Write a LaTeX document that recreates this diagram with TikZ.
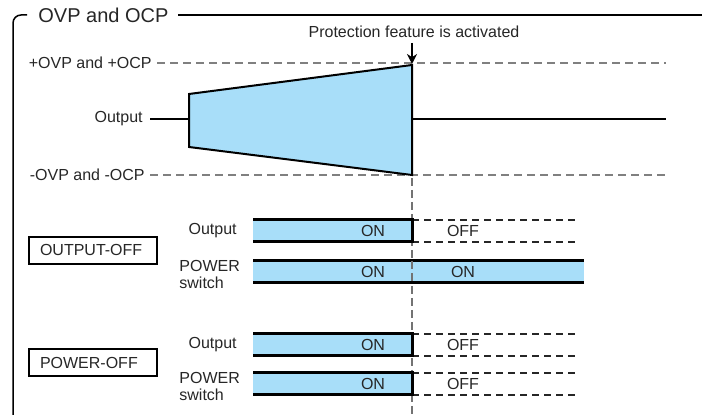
\documentclass[tikz,border=0pt]{standalone}
\usepackage{fontspec}
\setmainfont{Liberation Sans}
\usetikzlibrary{arrows.meta}

\definecolor{onblue}{RGB}{168,222,249}

\begin{document}
\begin{tikzpicture}[
    x=.5pt, y=-.5pt,
    frame/.style={line width=.75pt, line join=round},
    limit/.style={dash pattern=on 4pt off 2.5pt, draw=black!50, line width=.6pt},
    wave/.style={line width=1.4pt},
    trig/.style={dash pattern=on 4pt off 2pt, draw=black!55, line width=.6pt},
    bar/.style={line width=1.5pt},
    offline/.style={dash pattern=on 3.5pt off 2.5pt, line width=.7pt, draw=black!85},
    lbl/.style={font=\fontsize{8}{8.5}\selectfont, text=black!85, inner sep=0pt},
    ttl/.style={font=\fontsize{10}{12}\selectfont, text=black!85, inner sep=0pt},
    mode/.style={draw, line width=.75pt, font=\fontsize{8}{8.5}\selectfont, text=black!85,
        text width=53pt, inner xsep=5.5pt, minimum height=13.5pt, align=left},
]
    \useasboundingbox (0,0) rectangle (702,415);

    %% the frame round everything, open at the bottom
    \node[ttl, anchor=west] (title) at (38,15) {OVP and OCP};
    \draw[frame, rounded corners=4pt] (27,15) -- (13,15) -- (13,415);
    \draw[frame] (178,15) -- (702,15);

    %% output level between the two limits
    \node[lbl, anchor=east] (plus) at (152,63) {+OVP and +OCP};
    \node[lbl, anchor=east] (out) at (143,119) {Output};
    \node[lbl, anchor=east] (minus) at (145,175) {-OVP and -OCP};
    \coordinate (pr) at (666,63);
    \coordinate (mr) at (666,175);
    \coordinate (or) at (666,119);
    \draw[limit] ([xshift=2.5pt]plus.east) -- (pr);
    \draw[limit] ([xshift=2.5pt]minus.east) -- (mr);
    \fill[onblue] (189,94) -- (412,65) -- (412,175) -- (189,147) -- cycle;
    \draw[wave] ([xshift=3.5pt]out.east) -- (189,119);
    \draw[line width=1pt, line join=miter] (189,119) -- (189,94) -- (412,65)
        -- (412,175) -- (189,147) -- (189,119);
    \draw[wave] (412,119) -- (or);

    %% the moment the protection trips
    \node[lbl] (act) at (414,32) {Protection feature is activated};
    \coordinate (hit) at (412,64);
    \draw[line width=1pt, -{Stealth[length=5pt, width=5pt]}] (412,43) -- (hit);
    \draw[trig] (412,178) -- (412,415);

    %% the two settings
    \node[mode] (ooff) at (93,250.5) {OUTPUT-OFF};
    \node[mode] (poff) at (93,362.5) {POWER-OFF};

    \foreach \t in {220, 334}
        \node[lbl, anchor=east] (o\t) at (237,\t+11) {Output};
    \foreach \t in {261, 373}
        \node[lbl, anchor=west, align=left] (p\t) at (179,\t+13) {POWER\\switch};

    %% switched off at the trip
    \foreach \t in {220, 334, 373}{
        \fill[onblue] (253,\t) rectangle (412,\t+22);
        \draw[offline] (412,\t) -- (578,\t) (412,\t+22) -- (578,\t+22);
        \draw[bar] (253,\t) -- (412,\t) -- (412,\t+22) -- (253,\t+22);
        \node[lbl] (on\t) at (373,\t+11) {ON};
        \node[lbl] (off\t) at (463,\t+11) {OFF};
    }

    %% stays on
    \fill[onblue] (253,261) rectangle (584,283);
    \draw[bar] (253,261) -- (584,261) (253,283) -- (584,283);
    \draw[trig] (412,261) -- (412,283);
    \node[lbl] (on261) at (373,272) {ON};
    \node[lbl] (still) at (463,272) {ON};
\end{tikzpicture}
\end{document}
